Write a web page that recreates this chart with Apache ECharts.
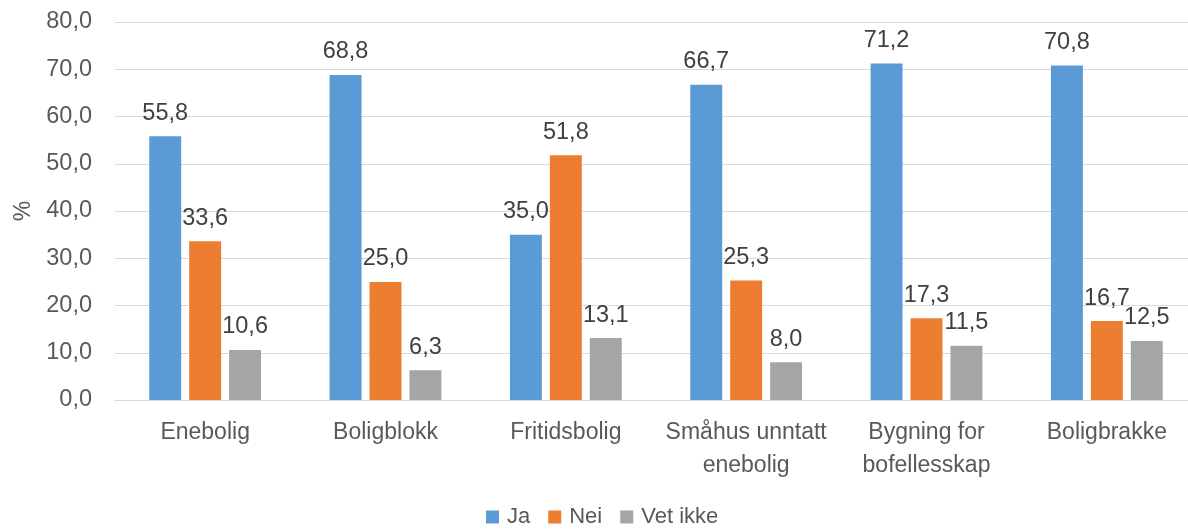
<!DOCTYPE html>
<html>
<head>
<meta charset="utf-8">
<script src="https://cdn.jsdelivr.net/npm/echarts@6/dist/echarts.min.js"></script>
<style>
  html, body { margin: 0; padding: 0; background: #fff; }
  #main { width: 1188px; height: 530px; }
</style>
</head>
<body>
<div id="main"></div>
<script>
// kategorier og verdier (%)
const categories = ['Enebolig', 'Boligblokk', 'Fritidsbolig', 'Småhus unntatt\nenebolig', 'Bygning for\nbofellesskap', 'Boligbrakke']
const seriesNames = ['Ja', 'Nei', 'Vet ikke']
const jaValues = [55.8, 68.8, 35.0, 66.7, 71.2, 70.8]
const neiValues = [33.6, 25.0, 51.8, 25.3, 17.3, 16.7]
const vetIkkeValues = [10.6, 6.3, 13.1, 8.0, 11.5, 12.5]
const yTicks = [0, 10, 20, 30, 40, 50, 60, 70, 80]

const fontFamily = '"Liberation Sans", Arial, sans-serif'
const comma = v => Number(v).toFixed(1).replace('.', ',')

const myChart = echarts.init(document.getElementById('main'))

function barSeries(name, data, color) {
  return {
    name: name,
    type: 'bar',
    data: data,
    barGap: '25%',
    barCategoryGap: '38%',
    itemStyle: { color: color },
    label: {
      show: true,
      position: 'top',
      distance: 11,
      color: '#404040',
      fontSize: 23.5,
      fontFamily: fontFamily,
      formatter: p => comma(p.value)
    }
  }
}

const option = {
  animation: false,
  textStyle: { fontFamily: fontFamily },
  legend: {
    data: seriesNames,
    top: 506,
    left: 486,
    padding: 0,
    itemWidth: 13,
    itemHeight: 13,
    itemGap: 18,
    icon: 'rect',
    textStyle: { color: '#595959', fontSize: 22, fontFamily: fontFamily, padding: [0, 0, 0, 3] }
  },
  // plotområdet går litt utenfor bildet, slik som i originalen
  grid: {
    left: 115,
    top: 22,
    width: 1082,
    height: 378,
    outerBoundsMode: 'none'
  },
  xAxis: {
    type: 'category',
    data: categories,
    axisTick: { show: false },
    axisLine: { lineStyle: { color: '#D9D9D9', width: 1 } },
    axisLabel: {
      color: '#595959',
      fontSize: 23,
      lineHeight: 33,
      margin: 16,
      interval: 0,
      fontFamily: fontFamily
    }
  },
  yAxis: {
    type: 'value',
    min: yTicks[0],
    max: yTicks[yTicks.length - 1],
    interval: yTicks[1] - yTicks[0],
    name: '%',
    nameLocation: 'middle',
    nameGap: 80,
    nameRotate: 90,
    nameTextStyle: { color: '#595959', fontSize: 23, fontFamily: fontFamily },
    axisLine: { show: false },
    axisTick: { show: false },
    splitLine: { lineStyle: { color: '#D9D9D9', width: 1 } },
    axisLabel: {
      color: '#595959',
      fontSize: 23.5,
      margin: 23,
      fontFamily: fontFamily,
      formatter: v => comma(v)
    }
  },
  series: [
    barSeries(seriesNames[0], jaValues, '#5B9BD5'),
    barSeries(seriesNames[1], neiValues, '#ED7D31'),
    barSeries(seriesNames[2], vetIkkeValues, '#A5A5A5')
  ]
}

myChart.setOption(option)
</script>
</body>
</html>
